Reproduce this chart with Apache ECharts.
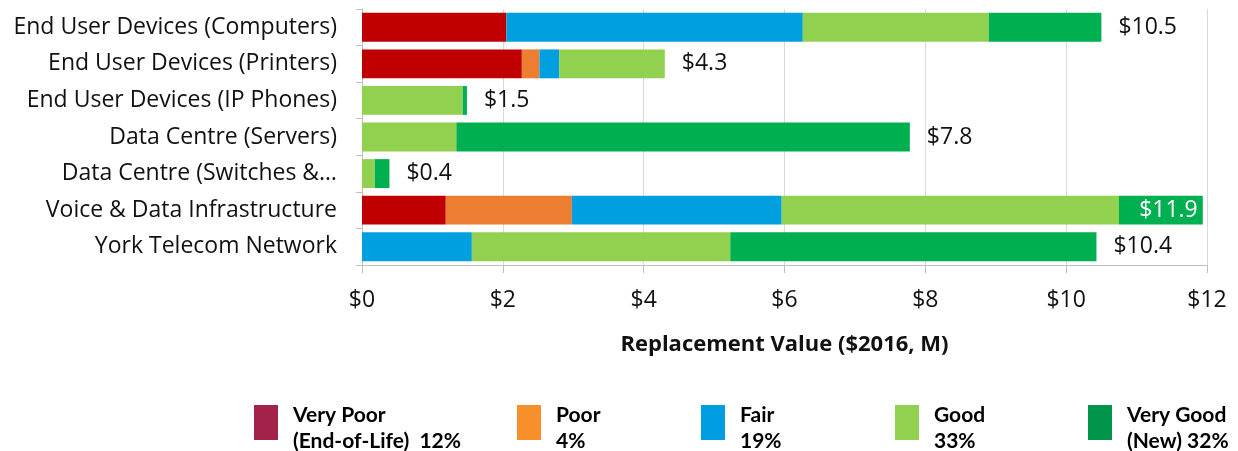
<!DOCTYPE html>
<html>
<head>
<meta charset="utf-8">
<script src="https://cdn.jsdelivr.net/npm/echarts@6/dist/echarts.min.js"></script>
<style>
  html, body { margin: 0; padding: 0; background: #fff; }
  #chart { width: 1238px; height: 451px; }
</style>
</head>
<body>
<div id="chart"></div>
<script>
var categories = [
  "End User Devices (Computers)",
  "End User Devices (Printers)",
  "End User Devices (IP Phones)",
  "Data Centre (Servers)",
  "Data Centre (Switches &…",
  "Voice & Data Infrastructure",
  "York Telecom Network"
];
var veryPoor = [2.05, 2.27, 0, 0, 0, 1.19, 0];
var poor     = [0, 0.25, 0, 0, 0, 1.79, 0];
var fair     = [4.21, 0.28, 0, 0, 0, 2.98, 1.56];
var good     = [2.64, 1.50, 1.43, 1.34, 0.18, 4.79, 3.67];
var veryGood = [1.60, 0, 0.06, 6.44, 0.21, 1.19, 5.20];
var xTicks = [0, 2, 4, 6, 8, 10, 12];

var seriesNames = ["Very Poor", "Poor", "Fair", "Good", "Very Good"];
var legendLines = ["Very Poor\n(End-of-Life)  12%", "Poor\n4%", "Fair\n19%", "Good\n33%", "Very Good\n(New) 32%"];
var barColors = ["#C00000", "#ED7D31", "#00A0E0", "#92D050", "#00B050"];
var legendColors = ["#A3224A", "#F7902A", "#009EE0", "#92D050", "#00954A"];
var legendLeft = [249, 512, 696, 890, 1083];

var allData = [veryPoor, poor, fair, good, veryGood];
var totals = categories.map(function (c, i) {
  return allData.reduce(function (s, arr) { return s + arr[i]; }, 0);
});

var chart = echarts.init(document.getElementById("chart"), null, { renderer: "canvas" });

var FONT = "Open Sans";
// swatch sits in the upper part of its box so the text lines can sit lower
var swatchIcon = "path://M0,0L24,0L24,35L0,35Z M0,46L0.01,46L0,46Z";

var series = allData.map(function (arr, k) {
  return {
    name: seriesNames[k],
    type: "bar",
    stack: "cond",
    barGap: "-100%",
    barCategoryGap: "21%",
    itemStyle: { color: barColors[k] },
    data: arr
  };
});

// transparent bar on top, carries the total labels
series.push({
  name: "Total",
  type: "bar",
  barGap: "-100%",
  barCategoryGap: "21%",
  silent: true,
  z: 5,
  itemStyle: { color: "rgba(0,0,0,0)" },
  label: {
    show: true,
    position: "right",
    distance: 17,
    fontFamily: FONT,
    fontSize: 23,
    color: "#111",
    formatter: function (p) { return "$" + p.value.toFixed(1); }
  },
  data: totals.map(function (t, i) {
    if (i === 5) {
      return { value: t, label: { position: "insideRight", color: "#fff", distance: 5 } };
    }
    return t;
  })
});

var legends = seriesNames.map(function (n, k) {
  return {
    left: legendLeft[k],
    top: 397,
    orient: "horizontal",
    icon: swatchIcon,
    itemWidth: 24,
    itemHeight: 46,
    selectedMode: false,
    data: [{ name: n, itemStyle: { color: legendColors[k], borderWidth: 0 } }],
    formatter: function () { return legendLines[k]; },
    textStyle: {
      fontFamily: "Lato",
      fontWeight: "bold",
      fontSize: 21,
      lineHeight: 26,
      color: "#000",
      padding: [0, 0, 0, 10]
    }
  };
});

var option = {
  animation: false,
  grid: { left: 362, right: 31, top: 9, bottom: 186 },
  legend: legends,
  xAxis: {
    type: "value",
    min: 0,
    max: 12,
    interval: 2,
    axisLine: { show: true, lineStyle: { color: "#bfbfbf" } },
    axisTick: { show: true, length: 8, lineStyle: { color: "#bfbfbf" } },
    splitLine: { show: true, lineStyle: { color: "#d9d9d9" } },
    axisLabel: {
      margin: 24,
      fontFamily: FONT,
      fontSize: 23,
      color: "#111",
      formatter: function (v) { return xTicks.indexOf(v) >= 0 ? "$" + v : ""; }
    },
    name: "Replacement Value ($2016, M)",
    nameLocation: "middle",
    nameGap: 69,
    nameTextStyle: { fontFamily: FONT, fontWeight: "bold", fontSize: 22, color: "#111" }
  },
  yAxis: {
    type: "category",
    inverse: true,
    data: categories,
    axisLine: { show: true, lineStyle: { color: "#bfbfbf" } },
    axisTick: { show: true, length: 6, lineStyle: { color: "#bfbfbf" } },
    axisLabel: {
      margin: 25,
      fontFamily: FONT,
      fontSize: 23,
      color: "#111"
    }
  },
  series: series
};

chart.setOption(option);
</script>
</body>
</html>
